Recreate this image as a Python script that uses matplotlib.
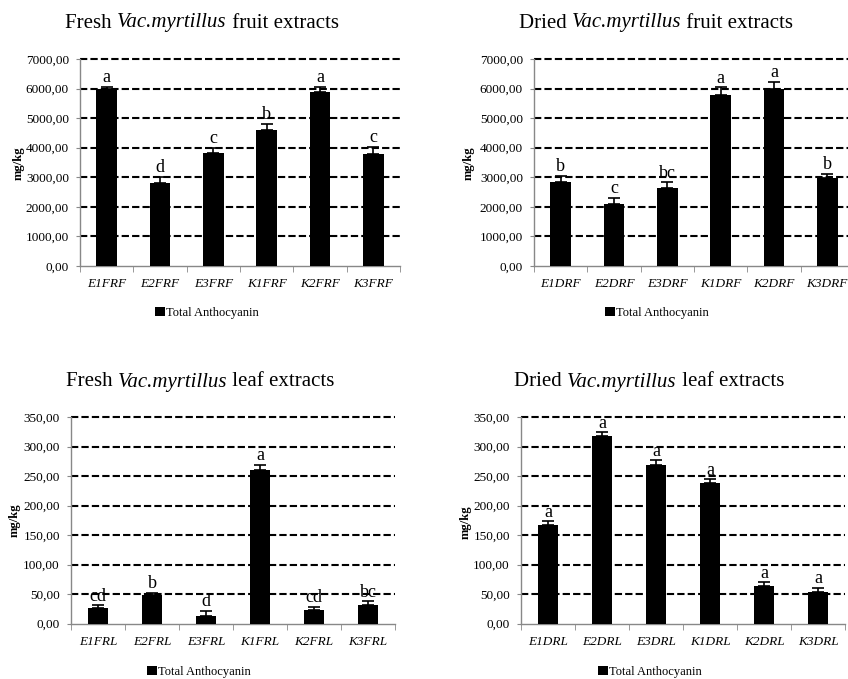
import matplotlib
matplotlib.use("Agg")
import matplotlib.pyplot as plt
from matplotlib.ticker import FuncFormatter
import numpy as np

plt.rcParams['font.family'] = ['Liberation Serif', 'DejaVu Serif']

# data
fruit_fresh_cats = ['E1FRF', 'E2FRF', 'E3FRF', 'K1FRF', 'K2FRF', 'K3FRF']
fruit_fresh_vals = [6000, 2810, 3810, 4610, 5880, 3800]
fruit_fresh_errs = [70, 200, 190, 190, 190, 230]
fruit_fresh_lets = ['a', 'd', 'c', 'b', 'a', 'c']

fruit_dried_cats = ['E1DRF', 'E2DRF', 'E3DRF', 'K1DRF', 'K2DRF', 'K3DRF']
fruit_dried_vals = [2830, 2100, 2630, 5780, 6000, 2980]
fruit_dried_errs = [230, 215, 200, 260, 230, 135]
fruit_dried_lets = ['b', 'c', 'bc', 'a', 'a', 'b']

leaf_fresh_cats = ['E1FRL', 'E2FRL', 'E3FRL', 'K1FRL', 'K2FRL', 'K3FRL']
leaf_fresh_vals = [26.5, 48, 13, 261, 23.7, 31]
leaf_fresh_errs = [4.5, 3.4, 8.5, 8, 4, 6.8]
leaf_fresh_lets = ['cd', 'b', 'd', 'a', 'cd', 'bc']

leaf_dried_cats = ['E1DRL', 'E2DRL', 'E3DRL', 'K1DRL', 'K2DRL', 'K3DRL']
leaf_dried_vals = [166.6, 317.4, 267.8, 238.6, 63.6, 52.9]
leaf_dried_errs = [6.7, 6.7, 8.5, 5.6, 6.2, 7.3]
leaf_dried_lets = ['a', 'a', 'a', 'a', 'a', 'a']

W, H = 848, 679
fig = plt.figure(figsize=(W / 100, H / 100), dpi=100)
renderer = fig.canvas.get_renderer()


def px(x, y):
    return x / W, 1 - y / H


def title(cx, cy, pieces):
    # pieces: list of (text, style); laid out left to right, centred on cx
    texts = [fig.text(0, 1 - cy / H, t, fontstyle=s, fontsize=15, va='center')
             for t, s in pieces]
    widths = [t.get_window_extent(renderer).width for t in texts]
    x = cx - sum(widths) / 2
    for t, w in zip(texts, widths):
        t.set_x(x / W)
        x += w


def panel(left, top, width, height, cats, vals, errs, lets, ymax, step,
          state, part, title_xy, ylab_xy, leg_xy):
    ax = fig.add_axes([left / W, 1 - (top + height) / H, width / W, height / H])
    x = np.arange(len(cats))
    bars = ax.bar(x, vals, width=0.385, color='black', zorder=3)
    ax.errorbar(x, vals, yerr=[np.zeros(len(vals)), errs], fmt='none',
                ecolor='black', elinewidth=1.2, capsize=4, capthick=1.2, zorder=4)
    for xi, v, e, l in zip(x, vals, errs, lets):
        ax.annotate(l, (xi, v + e), xytext=(0, 0.5), textcoords='offset points',
                    ha='center', va='bottom', fontsize=13, zorder=5)
    ax.set_xlim(-0.5, len(cats) - 0.5)
    ax.set_ylim(0, ymax)
    yt = np.arange(0, ymax + step / 2, step)
    ax.set_yticks(yt)
    ax.hlines(yt[1:], -0.5, len(cats) - 0.5, colors='black', linewidth=1.5,
              linestyles=(0, (3.5, 1.5)), zorder=2, clip_on=False)
    ax.yaxis.set_major_formatter(FuncFormatter(lambda v, p: f"{v:.2f}".replace('.', ',')))
    ax.set_xticks(x)
    ax.set_xticklabels(cats, fontstyle='italic', fontsize=9.5)
    ax.set_xticks(np.arange(-0.5, len(cats)), minor=True)
    ax.tick_params(axis='x', which='major', length=0, pad=9)
    ax.tick_params(axis='x', which='minor', length=4, color='#888888', direction='out')
    ax.tick_params(axis='y', length=3, color='#888888', labelsize=9.5, pad=5)
    for s in ['top', 'right']:
        ax.spines[s].set_visible(False)
    for s in ['left', 'bottom']:
        ax.spines[s].set_color('#888888')
        ax.spines[s].set_linewidth(1)
    ax.set_facecolor('none')
    title(title_xy[0], title_xy[1],
          [(state + ' ', 'normal'), ('Vac.myrtillus', 'italic'), (' ' + part, 'normal')])
    lx, ly = px(*ylab_xy)
    fig.text(lx, ly, 'mg/kg', rotation=90, ha='center', va='center',
             fontsize=9, fontweight='bold')
    gx, gy = px(*leg_xy)
    ax.legend([bars], ['Total Anthocyanin'], loc='center', bbox_to_anchor=(gx, gy),
              bbox_transform=fig.transFigure, frameon=False, fontsize=9,
              handlelength=0.75, handleheight=0.75, handletextpad=0.1)
    return ax


panel(80, 59, 320, 207, fruit_fresh_cats, fruit_fresh_vals, fruit_fresh_errs,
      fruit_fresh_lets, 7000, 1000, 'Fresh', 'fruit extracts',
      (202, 23), (19, 163), (207, 313))
panel(534, 59, 320, 207, fruit_dried_cats, fruit_dried_vals, fruit_dried_errs,
      fruit_dried_lets, 7000, 1000, 'Dried', 'fruit extracts',
      (656, 23), (469, 163), (657, 313))
panel(71, 417, 324, 206.5, leaf_fresh_cats, leaf_fresh_vals, leaf_fresh_errs,
      leaf_fresh_lets, 350, 50, 'Fresh', 'leaf extracts',
      (200, 382), (15, 520), (199, 672))
panel(521, 417, 324, 206.5, leaf_dried_cats, leaf_dried_vals, leaf_dried_errs,
      leaf_dried_lets, 350, 50, 'Dried', 'leaf extracts',
      (649, 382), (466, 522), (650, 672))

fig.savefig('out.png', dpi=100)
